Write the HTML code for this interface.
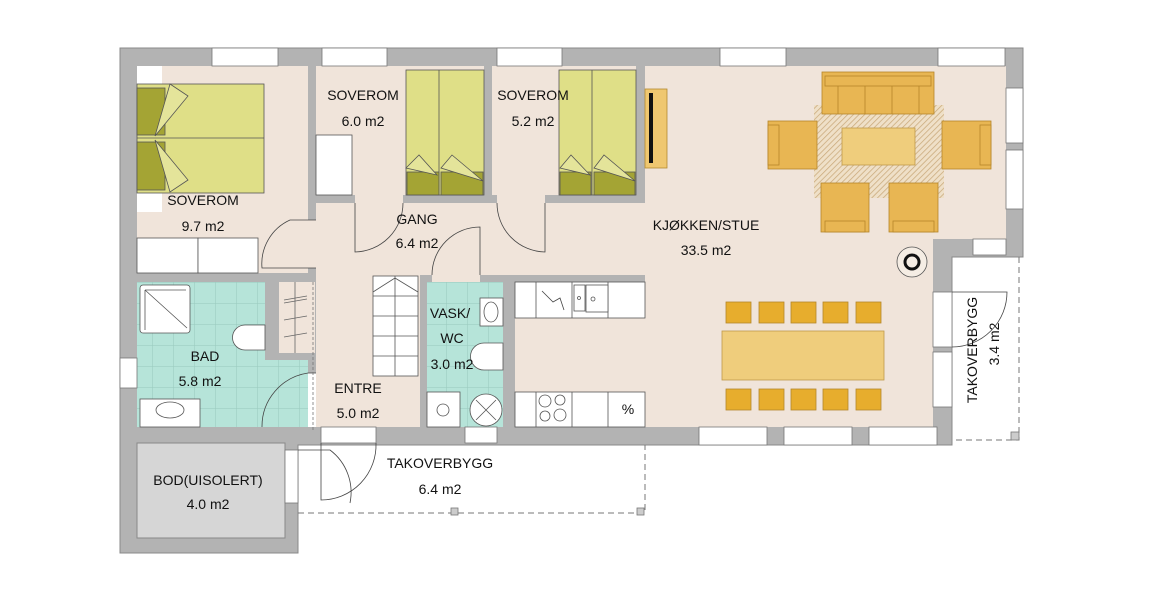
<!DOCTYPE html>
<html><head><meta charset="utf-8"><style>
html,body{margin:0;padding:0;background:#fff;width:1150px;height:600px;overflow:hidden}
text{font-family:"Liberation Sans",sans-serif;font-size:14px;fill:#111;text-anchor:middle}
</style></head><body>
<svg width="1150" height="600" viewBox="0 0 1150 600" xmlns="http://www.w3.org/2000/svg">
<defs>
<pattern id="tile" x="131" y="282" width="21" height="21" patternUnits="userSpaceOnUse">
<rect width="21" height="21" fill="#b6e4d9"/><path d="M0 0H21M0 0V21" stroke="#98c9bd" stroke-width="1"/>
</pattern>
<pattern id="hatch" width="4" height="4" patternUnits="userSpaceOnUse" patternTransform="rotate(45)">
<rect width="4" height="4" fill="#efe0c8"/><line x1="0" y1="0" x2="0" y2="4" stroke="#c9a97a" stroke-width="1.5"/>
</pattern>
</defs>
<polygon points="120,48 1023,48 1023,257 952,257 952,445 298,445 298,553 120,553" fill="#b3b3b3" stroke="#888" stroke-width="1"/>
<g fill="#f0e4da">
<rect x="137" y="66" width="171" height="207"/>
<rect x="316" y="66" width="168" height="129"/>
<rect x="492" y="66" width="144" height="129"/>
<rect x="645" y="66" width="361" height="173"/>
<rect x="316" y="203" width="617" height="72"/>
<rect x="515" y="275" width="418" height="152"/>
<rect x="316" y="275" width="104" height="152"/>
<rect x="279" y="282" width="36" height="71"/>
</g>
<rect x="503" y="275" width="142" height="7" fill="#b3b3b3"/>
<rect x="503" y="282" width="12" height="145" fill="#b3b3b3"/>
<rect x="420" y="275" width="7" height="152" fill="#b3b3b3"/>
<rect x="427" y="275" width="76" height="7" fill="#b3b3b3"/>
<rect x="137" y="282" width="128" height="145" fill="url(#tile)"/>
<rect x="265" y="360" width="43" height="67" fill="url(#tile)"/>
<rect x="427" y="282" width="76" height="145" fill="url(#tile)"/>
<rect x="137" y="443" width="148" height="95" fill="#d6d6d6" stroke="#888"/>
<g fill="#fff" stroke="#777" stroke-width="0.8">
<rect x="212" y="48" width="66" height="18"/><rect x="322" y="48" width="65" height="18"/><rect x="497" y="48" width="65" height="18"/>
<rect x="720" y="48" width="66" height="18"/><rect x="938" y="48" width="67" height="18"/>
<rect x="1006" y="88" width="17" height="55"/><rect x="1006" y="150" width="17" height="59"/>
<rect x="973" y="239" width="33" height="16"/>
<rect x="933" y="292" width="19" height="55"/><rect x="933" y="352" width="19" height="55"/>
<rect x="699" y="427" width="68" height="18"/><rect x="784" y="427" width="68" height="18"/><rect x="869" y="427" width="68" height="18"/>
<rect x="465" y="427" width="32" height="16"/>
<rect x="120" y="358" width="17" height="30"/>
<rect x="321" y="427" width="55" height="16"/>
<rect x="285" y="450" width="13" height="53"/>
</g>
<g fill="#f0e4da">
<rect x="308" y="220" width="8" height="48"/><rect x="355" y="195" width="48" height="8"/><rect x="497" y="195" width="48" height="8"/>
<rect x="432" y="275" width="48" height="7"/>
</g>
<rect x="308" y="373" width="8" height="54" fill="#fff"/>
<g fill="none" stroke="#444" stroke-width="0.8">
<path d="M355 203V252A49 49 0 0 0 403 203"/>
<path d="M545 203V252A49 49 0 0 1 497 203"/>
<path d="M480 275V227A48 48 0 0 0 432 275"/>
<path d="M316 220H290A48 48 0 0 0 262 268H316"/>
<path d="M316 373H308A54 54 0 0 0 262 427"/>
<path d="M321 443V500A55 55 0 0 0 376 443"/>
<path d="M298 450H330A53 53 0 0 1 350 503"/>
<path d="M952 292H1007A55 55 0 0 1 952 347"/>
</g>
<g fill="none" stroke="#777" stroke-dasharray="6,4" stroke-width="1">
<path d="M298 513H645V445"/>
<path d="M1019 257V440H952"/>
</g>
<g fill="#ccc" stroke="#777" stroke-width="0.8">
<rect x="451" y="508" width="7" height="7"/><rect x="637" y="508" width="7" height="7"/><rect x="1011" y="432" width="8" height="8"/>
</g>
<rect x="137" y="66" width="25" height="18" fill="#fff"/>
<rect x="137" y="193" width="25" height="19" fill="#fff"/>
<g stroke="#555" stroke-width="0.8">
<rect x="137" y="84" width="127" height="109" fill="#dfdf87"/>
<line x1="137" y1="138" x2="264" y2="138"/>
<rect x="137" y="88" width="28" height="47" fill="#a4a434"/>
<rect x="137" y="142" width="28" height="48" fill="#a4a434"/>
<polygon points="170,84 188,96 155,136" fill="#e4e49a"/>
<polygon points="155,140 188,180 170,192" fill="#e4e49a"/>
<rect x="137" y="238" width="61" height="35" fill="#fff"/><rect x="198" y="238" width="60" height="35" fill="#fff"/>
</g>
<g stroke="#555" stroke-width="0.8">
<rect x="316" y="135" width="36" height="60" fill="#fff"/>
<rect x="406" y="70" width="78" height="125" fill="#dfdf87"/>
<line x1="439" y1="70" x2="439" y2="195"/>
<rect x="407" y="172" width="32" height="23" fill="#a4a434"/><rect x="441" y="172" width="42" height="23" fill="#a4a434"/>
<polygon points="406,168 419,155 437,175" fill="#e4e49a"/><polygon points="441,168 452,155 483,181" fill="#e4e49a"/>
<rect x="559" y="70" width="77" height="125" fill="#dfdf87"/>
<line x1="592" y1="70" x2="592" y2="195"/>
<rect x="560" y="172" width="31" height="23" fill="#a4a434"/><rect x="594" y="172" width="41" height="23" fill="#a4a434"/>
<polygon points="560,168 571,155 590,175" fill="#e4e49a"/><polygon points="594,168 604,155 635,181" fill="#e4e49a"/>
</g>
<rect x="645" y="89" width="22" height="79" fill="#efc770" stroke="#b38a30" stroke-width="0.8"/>
<rect x="649" y="93" width="4" height="70" fill="#111"/>
<rect x="814" y="105" width="130" height="93" fill="url(#hatch)"/>
<g fill="#e8b653" stroke="#b5862a" stroke-width="0.8">
<rect x="822" y="72" width="112" height="42"/><rect x="825" y="76" width="106" height="10"/>
<line x1="838" y1="86" x2="838" y2="114"/><line x1="865" y1="86" x2="865" y2="114"/><line x1="892" y1="86" x2="892" y2="114"/><line x1="919" y1="86" x2="919" y2="114"/>
<rect x="768" y="121" width="49" height="48"/><rect x="768" y="125" width="11" height="40"/>
<rect x="942" y="121" width="49" height="48"/><rect x="980" y="125" width="11" height="40"/>
<rect x="821" y="183" width="48" height="49"/><rect x="825" y="221" width="40" height="11"/>
<rect x="889" y="183" width="49" height="49"/><rect x="893" y="221" width="41" height="11"/>
</g>
<rect x="842" y="128" width="73" height="37" fill="#efcd7c" stroke="#c09a4a" stroke-width="0.8"/>
<circle cx="912" cy="262" r="15" fill="#f5ede4" stroke="#555" stroke-width="0.8"/>
<circle cx="912" cy="262" r="7" fill="none" stroke="#111" stroke-width="3"/>
<rect x="722" y="331" width="162" height="49" fill="#efcd7c" stroke="#c09a4a" stroke-width="0.8"/>
<g fill="#e7ad2d" stroke="#b5862a" stroke-width="0.8">
<rect x="726" y="302" width="25" height="21"/><rect x="759" y="302" width="25" height="21"/><rect x="791" y="302" width="25" height="21"/><rect x="823" y="302" width="25" height="21"/><rect x="856" y="302" width="25" height="21"/>
<rect x="726" y="389" width="25" height="21"/><rect x="759" y="389" width="25" height="21"/><rect x="791" y="389" width="25" height="21"/><rect x="823" y="389" width="25" height="21"/><rect x="856" y="389" width="25" height="21"/>
</g>
<g fill="#fff" stroke="#555" stroke-width="0.8">
<rect x="515" y="282" width="130" height="36"/><rect x="515" y="392" width="130" height="35"/>
<line x1="536" y1="282" x2="536" y2="318"/><line x1="572" y1="282" x2="572" y2="318"/><line x1="608" y1="282" x2="608" y2="318"/>
<line x1="536" y1="392" x2="536" y2="427"/><line x1="572" y1="392" x2="572" y2="427"/><line x1="608" y1="392" x2="608" y2="427"/>
<rect x="574" y="285" width="11" height="26"/><rect x="586" y="285" width="22" height="27"/>
<circle cx="579" cy="298" r="1.5"/><circle cx="593" cy="299" r="2"/>
<circle cx="545" cy="401" r="6"/><circle cx="560" cy="400" r="5"/><circle cx="545" cy="416" r="5"/><circle cx="560" cy="415" r="6"/>
</g>
<path d="M542 291L553 302L560 298L564 310" fill="none" stroke="#444" stroke-width="0.8"/>
<text x="628" y="414" style="font-size:14px">%</text>
<g fill="#fff" stroke="#555" stroke-width="0.8">
<rect x="140" y="285" width="50" height="48" rx="3"/>
<path d="M265 325H245A12 12 0 0 0 245 350H265Z"/>
<rect x="140" y="399" width="60" height="28"/><ellipse cx="170" cy="410" rx="14" ry="8"/>
<rect x="480" y="298" width="23" height="28"/><ellipse cx="491" cy="312" rx="7" ry="10"/>
<path d="M503 343H484A12 12 0 0 0 484 370H503Z"/>
<rect x="427" y="392" width="33" height="35"/>
<circle cx="486" cy="410" r="16"/>
<path d="M476 400L496 420M496 400L476 420"/>
<circle cx="443" cy="410" r="6"/>
<rect x="373" y="276" width="45" height="100"/>
<path d="M395 276V376M373 296H418M373 316H418M373 336H418M373 356H418M373 292L395 278L418 292"/>
</g>
<path d="M145 290L187 328M145 290V330M145 290H186" stroke="#555" fill="none" stroke-width="0.8"/>
<g stroke="#666" stroke-width="0.8">
<line x1="295" y1="282" x2="295" y2="353"/>
<line x1="284" y1="300" x2="307" y2="296"/><line x1="284" y1="303" x2="307" y2="299"/>
<line x1="284" y1="320" x2="307" y2="316"/><line x1="284" y1="337" x2="307" y2="333"/>
</g>
<line x1="313" y1="282" x2="313" y2="430" stroke="#777" stroke-dasharray="3,2" stroke-width="0.8"/>
<text x="203" y="205">SOVEROM</text><text x="203" y="231">9.7 m2</text>
<text x="363" y="100">SOVEROM</text><text x="363" y="126">6.0 m2</text>
<text x="533" y="100">SOVEROM</text><text x="533" y="126">5.2 m2</text>
<text x="417" y="224">GANG</text><text x="417" y="248">6.4 m2</text>
<text x="706" y="230">KJØKKEN/STUE</text><text x="706" y="255">33.5 m2</text>
<text x="205" y="361">BAD</text><text x="200" y="386">5.8 m2</text>
<text x="450" y="318">VASK/</text><text x="452" y="343">WC</text><text x="452" y="369">3.0 m2</text>
<text x="358" y="393">ENTRE</text><text x="358" y="418">5.0 m2</text>
<text x="440" y="468">TAKOVERBYGG</text><text x="440" y="494">6.4 m2</text>
<text x="208" y="485">BOD(UISOLERT)</text><text x="208" y="509">4.0 m2</text>
<text transform="translate(977,350) rotate(-90)">TAKOVERBYGG</text>
<text transform="translate(999,344) rotate(-90)">3.4 m2</text>
</svg>
</body></html>
